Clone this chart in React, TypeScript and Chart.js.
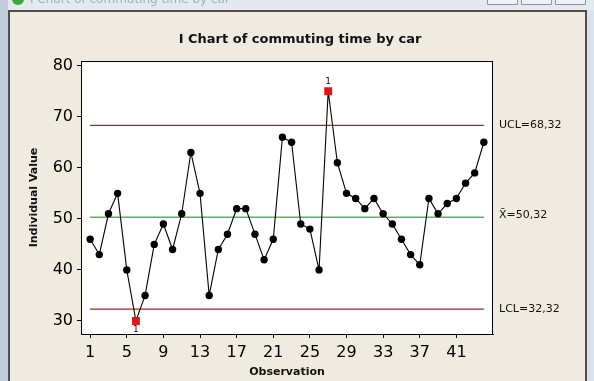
import { useEffect, useRef } from "react";
import { Chart, registerables } from "chart.js";

Chart.register(...registerables);

const observations = [
  46, 43, 51, 55, 40, 30, 35, 45, 49, 44, 51, 63, 55, 35, 44, 47, 52, 52, 47, 42, 46, 66,
  65, 49, 48, 40, 75, 61, 55, 54, 52, 54, 51, 49, 46, 43, 41, 54, 51, 53, 54, 57, 59, 65,
];
const UCL = 68.32;
const CL = 50.32;
const LCL = 32.32;
const xTicks = [1, 5, 9, 13, 17, 21, 25, 29, 33, 37, 41];
const yTicks = [30, 40, 50, 60, 70, 80];
const chartTitle = "I Chart of commuting time by car";
const xTitle = "Observation";
const yTitle = "Individual Value";
const limitLabels = ["UCL=68,32", "X\u0304=50,32", "LCL=32,32"];
const limitValues = [UCL, CL, LCL];
const flagLabel = "1";

const FONT = "'DejaVu Sans', sans-serif";

const framePlugin = {
  id: "frame",
  beforeDraw(chart: any) {
    const { ctx, width, height, chartArea } = chart;
    ctx.save();
    ctx.fillStyle = "#D8E3EF";
    ctx.fillRect(0, 0, width, height);
    ctx.fillStyle = "#BFCDDC";
    ctx.fillRect(0, 0, 8, height);
    ctx.fillStyle = "#E4E9EF";
    ctx.fillRect(8, 0, width - 8, 10);
    ctx.fillStyle = "#3FA33F";
    ctx.beginPath();
    ctx.arc(18, -1, 6, 0, Math.PI * 2);
    ctx.fill();
    ctx.fillStyle = "#A3ADB8";
    ctx.font = `12px ${FONT}`;
    ctx.textBaseline = "alphabetic";
    ctx.textAlign = "left";
    ctx.fillText(chartTitle, 30, 3);
    ctx.strokeStyle = "#8E959E";
    ctx.fillStyle = "#EDF0F4";
    [487, 521, 555].forEach((bx) => {
      ctx.beginPath();
      ctx.rect(bx + 0.5, -6.5, 30, 11);
      ctx.fill();
      ctx.stroke();
    });
    ctx.fillStyle = "#4E4E4E";
    ctx.fillRect(8, 10, 579, height - 10);
    ctx.fillStyle = "#EFEBE1";
    ctx.fillRect(10, 12, 575, height - 12);
    ctx.fillStyle = "#FFFFFF";
    ctx.fillRect(chartArea.left, chartArea.top, chartArea.right - chartArea.left, chartArea.bottom - chartArea.top);
    ctx.restore();
  },
  afterDraw(chart: any) {
    const { ctx, chartArea, scales } = chart;
    const xs = scales.x;
    const ys = scales.y;
    ctx.save();
    ctx.strokeStyle = "#000";
    ctx.lineWidth = 1;
    ctx.strokeRect(chartArea.left + 0.5, chartArea.top + 0.5, chartArea.right - chartArea.left - 1, chartArea.bottom - chartArea.top);
    ctx.fillStyle = "#111";
    ctx.font = `bold 13px ${FONT}`;
    ctx.textAlign = "center";
    ctx.textBaseline = "middle";
    ctx.fillText(chartTitle, 300, 40);
    ctx.font = `bold 11px ${FONT}`;
    ctx.fillText(xTitle, (chartArea.left + chartArea.right) / 2, 372);
    ctx.save();
    ctx.translate(34, (chartArea.top + chartArea.bottom) / 2);
    ctx.rotate(-Math.PI / 2);
    ctx.fillText(yTitle, 0, 0);
    ctx.restore();
    ctx.font = `11px ${FONT}`;
    ctx.textAlign = "left";
    limitLabels.forEach((t, i) => {
      ctx.fillText(t, chartArea.right + 6, ys.getPixelForValue(limitValues[i]) - (i === 1 ? 2 : 0));
    });
    ctx.font = `9px ${FONT}`;
    ctx.textAlign = "center";
    observations.forEach((v, i) => {
      if (v > UCL || v < LCL) {
        const px = xs.getPixelForValue(i + 1);
        const py = ys.getPixelForValue(v);
        ctx.fillText(flagLabel, px, v > UCL ? py - 10 : py + 9);
      }
    });
    ctx.restore();
  },
};

export default function App() {
  const ref = useRef<HTMLCanvasElement>(null);
  useEffect(() => {
    if (!ref.current) return;
    const flagged = observations.map((v) => v > UCL || v < LCL);
    const xFirst = 1;
    const xLast = observations.length;
    const limitDataset = (v: number, color: string) => ({
      data: [
        { x: xFirst, y: v },
        { x: xLast, y: v },
      ],
      borderColor: color,
      borderWidth: 1.4,
      pointRadius: 0,
      fill: false,
      order: 1,
    });
    const chart = new Chart(ref.current, {
      type: "line",
      data: {
        datasets: [
          {
            data: observations.map((v, i) => ({ x: i + 1, y: v })),
            borderColor: "#000",
            borderWidth: 1.1,
            tension: 0,
            pointStyle: flagged.map((f) => (f ? "rect" : "circle")),
            pointRadius: flagged.map((f) => (f ? 5.6 : 3.7)),
            pointBackgroundColor: flagged.map((f) => (f ? "#E3141B" : "#000")),
            pointBorderColor: flagged.map((f) => (f ? "#E3141B" : "#000")),
            pointBorderWidth: 0,
            order: 0,
          } as any,
          limitDataset(UCL, "#C0141C"),
          limitDataset(CL, "#3CC83C"),
          limitDataset(LCL, "#C0141C"),
        ],
      },
      options: {
        animation: false,
        responsive: false,
        devicePixelRatio: 1,
        layout: { padding: { top: 61, right: 101, left: 0, bottom: 0 } },
        plugins: { legend: { display: false }, tooltip: { enabled: false }, title: { display: false } },
        scales: {
          x: {
            type: "linear",
            min: 0,
            max: 45,
            afterBuildTicks: (s: any) => {
              s.ticks = xTicks.map((v) => ({ value: v }));
            },
            afterFit: (s: any) => {
              s.height = 47;
            },
            ticks: { font: { family: FONT, size: 16 }, color: "#000", padding: 5, maxRotation: 0, autoSkip: false },
            grid: { drawOnChartArea: false, tickLength: 4, color: "#000" },
            border: { color: "#000", width: 1 },
          },
          y: {
            type: "linear",
            min: 27.45,
            max: 80.92,
            afterBuildTicks: (s: any) => {
              s.ticks = yTicks.map((v) => ({ value: v }));
            },
            afterFit: (s: any) => {
              s.width = 81;
            },
            ticks: { font: { family: FONT, size: 16 }, color: "#000", padding: 4, autoSkip: false },
            grid: { drawOnChartArea: false, tickLength: 4, color: "#000" },
            border: { color: "#000", width: 1 },
          },
        },
      },
      plugins: [framePlugin],
    });
    return () => chart.destroy();
  }, []);
  return (
    <div style={{ position: "fixed", left: 0, top: 0 }}>
      <canvas ref={ref} width={594} height={381} style={{ display: "block", width: 594, height: 381 }} />
    </div>
  );
}
